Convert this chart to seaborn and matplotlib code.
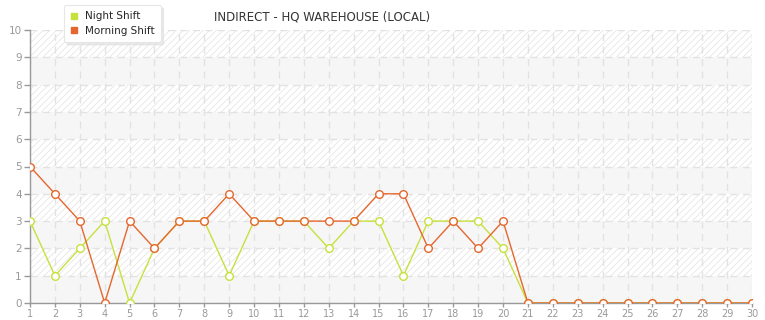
import matplotlib
matplotlib.use("Agg")
import matplotlib.pyplot as plt
import seaborn as sns
import pandas as pd
from matplotlib.lines import Line2D

days = list(range(1, 31))
night_shift = [3, 1, 2, 3, 0, 2, 3, 3, 1, 3, 3, 3, 2, 3, 3, 1, 3, 3, 3, 2,
               0, 0, 0, 0, 0, 0, 0, 0, 0, 0]
morning_shift = [5, 4, 3, 0, 3, 2, 3, 3, 4, 3, 3, 3, 3, 3, 4, 4, 2, 3, 2, 3,
                 0, 0, 0, 0, 0, 0, 0, 0, 0, 0]
series_names = ["Night Shift", "Morning Shift"]
title = "INDIRECT - HQ WAREHOUSE (LOCAL)"
yticks = list(range(0, 11))

colors = {"Night Shift": "#c8e03c", "Morning Shift": "#e5672e"}

sns.set_style("white")
plt.rcParams["font.family"] = ["DejaVu Sans"]
plt.rcParams["hatch.linewidth"] = 0.6
plt.rcParams["hatch.color"] = "#e6e6e6"

df = pd.DataFrame({
    "day": days * 2,
    "value": night_shift + morning_shift,
    "series": [series_names[0]] * len(days) + [series_names[1]] * len(days),
})

fig = plt.figure(figsize=(7.65, 3.2), dpi=100)
ax = fig.add_axes([30 / 765, 17 / 320, 722 / 765, 273 / 320])

# alternating background bands
for lo in range(0, 10):
    if lo % 2 == 0:
        ax.axhspan(lo, lo + 1, facecolor="#f6f6f6", edgecolor="none", lw=0, zorder=0)
    else:
        ax.axhspan(lo, lo + 1, facecolor="white", edgecolor="#e6e6e6", hatch="/////", lw=0, zorder=0)

for name in series_names:
    sub = df[df["series"] == name]
    sns.lineplot(data=sub, x="day", y="value", ax=ax, color=colors[name],
                 lw=1.0, marker="o", markersize=5.5, markerfacecolor="white",
                 markeredgecolor=colors[name], markeredgewidth=1.0, zorder=3,
                 legend=False)

ax.set_xlim(1, 30)
ax.set_ylim(0, 10)
ax.set_xticks(days)
ax.set_yticks(yticks)
ax.set_xlabel("")
ax.set_ylabel("")
ax.grid(True, color="#e2e2e2", linestyle=(0, (5, 4)), lw=1.0, zorder=1)
ax.set_axisbelow(True)
for s in ["top", "right"]:
    ax.spines[s].set_visible(False)
ax.spines["left"].set_color("#999999")
ax.spines["bottom"].set_color("#999999")
ax.spines["left"].set_linewidth(1.0)
ax.spines["bottom"].set_linewidth(1.0)
ax.tick_params(axis="y", colors="#999999", labelcolor="#999999", labelsize=7.5,
               length=4, width=1, direction="out", pad=2, left=True)
ax.tick_params(axis="x", colors="#999999", labelcolor="#999999", labelsize=7,
               length=3, width=1, direction="out", pad=1, bottom=True)

fig.text(322 / 765, 1 - 17 / 320, title, ha="center", va="center",
         fontsize=8.5, color="#333333")

handles = [Line2D([0], [0], marker="s", color="none", markerfacecolor=colors[n],
                  markeredgecolor=colors[n], markersize=4.5, label=n)
           for n in series_names]
leg = fig.legend(handles=handles, loc="upper left",
                 bbox_to_anchor=(64 / 765, 1 - 5 / 320), frameon=True,
                 fontsize=7.5, handlelength=0.8, handletextpad=0.6,
                 labelspacing=0.45, borderpad=0.6, fancybox=True,
                 shadow={"color": "#dddddd", "alpha": 0.6}, borderaxespad=0)
leg.get_frame().set_edgecolor("#e6e6e6")
leg.get_frame().set_facecolor("white")
leg.get_frame().set_linewidth(0.8)

fig.savefig("out.png", dpi=100)
